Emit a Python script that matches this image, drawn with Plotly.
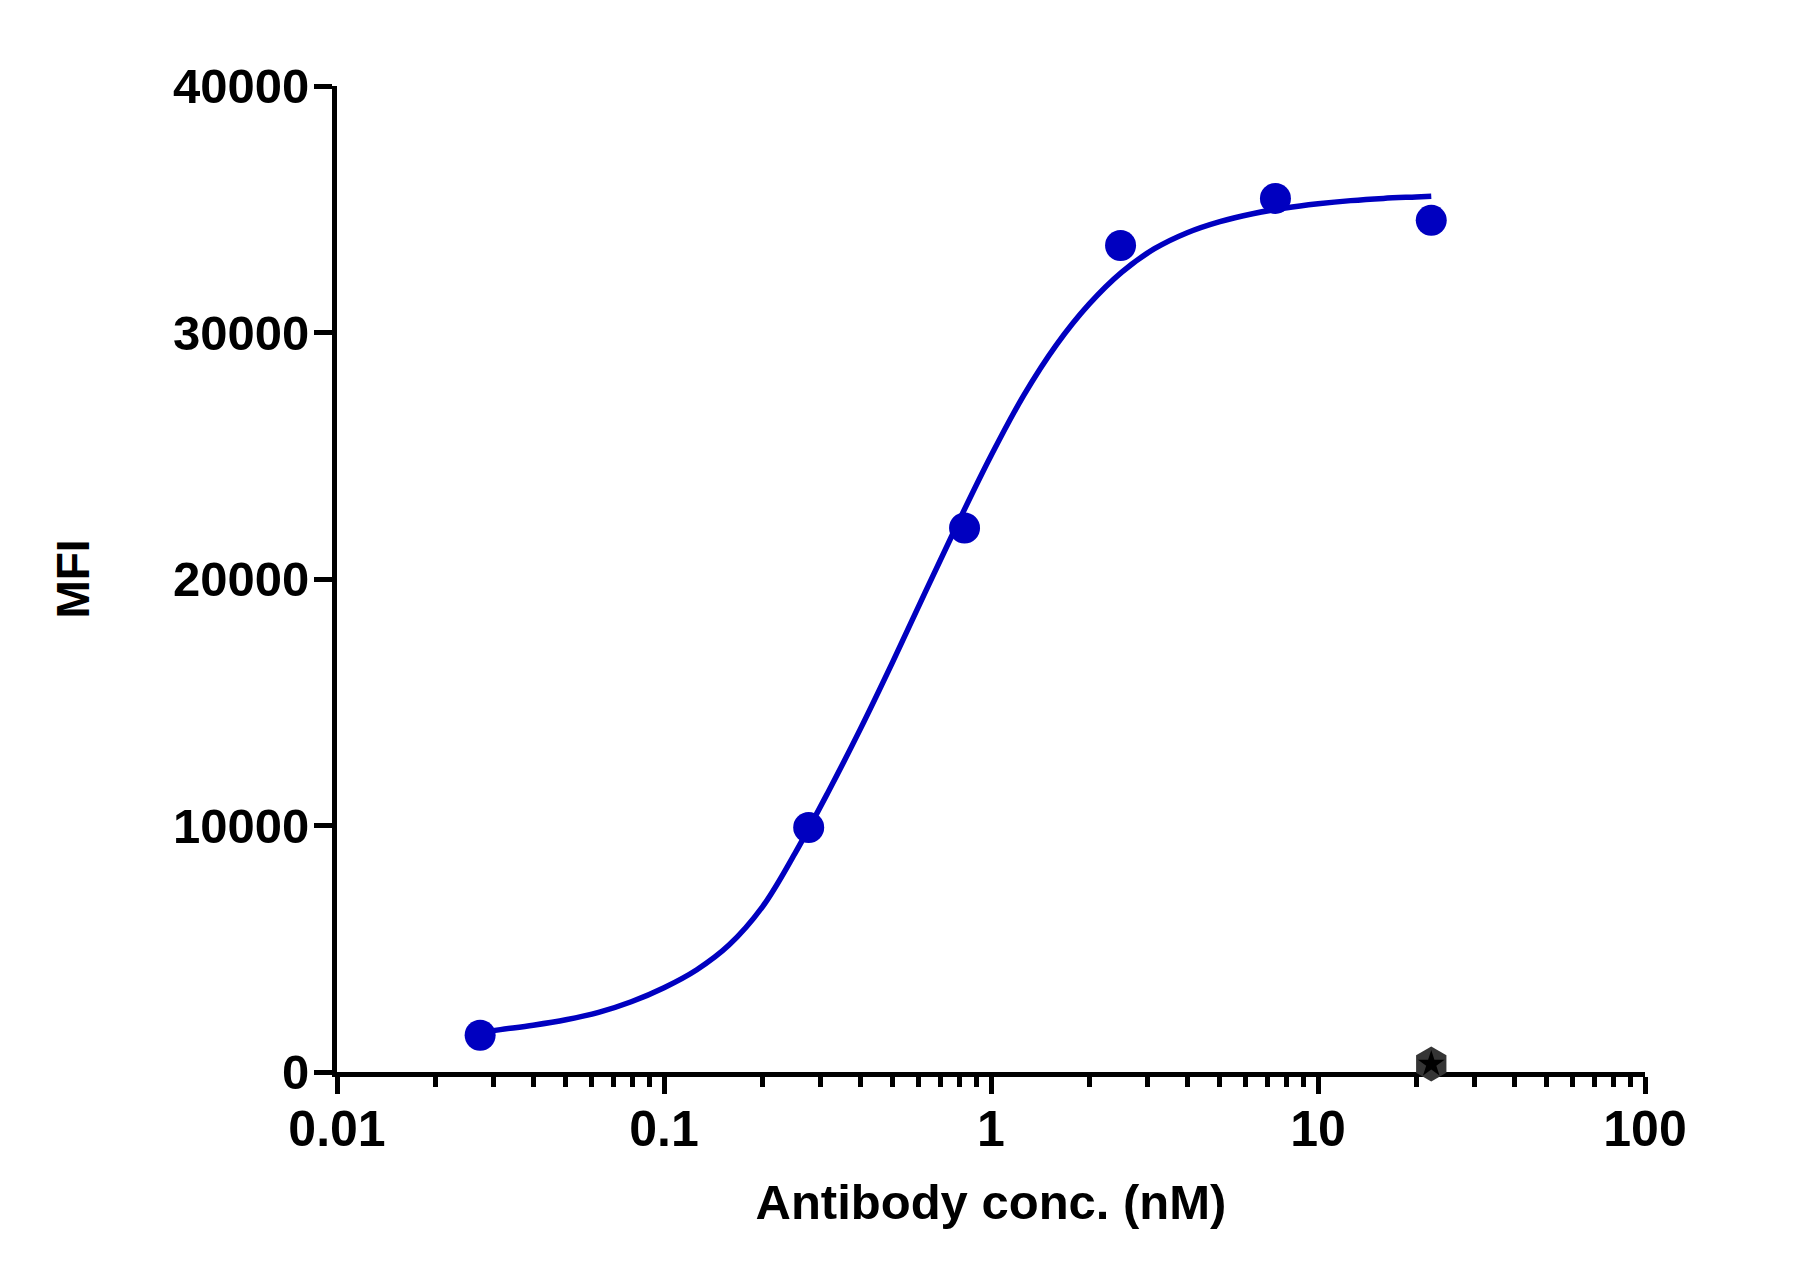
import plotly.graph_objects as go

# ---- data ----
conc = [0.0274, 0.277, 0.83, 2.49, 7.41, 22.2]          # nM
mfi = [1490, 9920, 22070, 33530, 35440, 34550]

control_conc = [22.2]
control_mfi = [320]

# fitted curve at evenly spaced concentrations
fit_conc = [0.0274, 0.0316, 0.0398, 0.0501, 0.0631, 0.0794, 0.1, 0.126, 0.158,
            0.2, 0.251, 0.316, 0.398, 0.501, 0.631, 0.794, 1.0, 1.259, 1.585,
            1.995, 2.512, 3.162, 3.981, 5.012, 6.31, 7.943, 10, 12.59, 15.85,
            19.95, 22.2]
fit_mfi = [1600, 1720, 1900, 2120, 2420, 2850, 3420, 4150, 5150,
           6700, 8850, 11300, 13900, 16650, 19500, 22300, 25000, 27450, 29500,
           31150, 32450, 33400, 34050, 34500, 34820, 35050, 35220, 35350, 35440,
           35500, 35530]

x_ticks = [0.01, 0.1, 1, 10, 100]
x_ticktext = ["0.01", "0.1", "1", "10", "100"]
x_minor = [m * d for d in [0.01, 0.1, 1, 10] for m in range(2, 10)]
y_ticks = [0, 10000, 20000, 30000, 40000]
y_ticktext = ["0", "10000", "20000", "30000", "40000"]

BLUE = "#0000C0"
FONT = "Liberation Sans, Arial, Helvetica, sans-serif"

fig = go.Figure()

fig.add_trace(go.Scatter(
    x=fit_conc, y=fit_mfi, mode="lines",
    line=dict(color=BLUE, width=5.5, shape="spline", smoothing=1.0),
    showlegend=False, hoverinfo="skip", cliponaxis=False))

fig.add_trace(go.Scatter(
    x=conc, y=mfi, mode="markers",
    marker=dict(color=BLUE, size=31, line=dict(width=0)),
    showlegend=False, cliponaxis=False))

fig.add_trace(go.Scatter(
    x=control_conc, y=control_mfi, mode="markers",
    marker=dict(color="#353535", size=35, symbol="hexagon", line=dict(width=0)),
    showlegend=False, cliponaxis=False))
fig.add_trace(go.Scatter(
    x=control_conc, y=control_mfi, mode="markers",
    marker=dict(color="#000000", size=20, symbol="star", line=dict(width=0)),
    showlegend=False, cliponaxis=False))

fig.update_layout(
    width=1789, height=1264,
    margin=dict(l=329, r=152, t=78, b=200),
    paper_bgcolor="white", plot_bgcolor="white",
    font=dict(family=FONT, color="black", size=50, weight="bold"),
    xaxis=dict(
        type="log", range=[-2, 2],
        tickmode="array", tickvals=x_ticks, ticktext=x_ticktext,
        ticks="outside", ticklen=17, tickwidth=5, tickcolor="black",
        ticklabelstandoff=-8,
        showline=True, linewidth=5, linecolor="black",
        showgrid=False, zeroline=False, layer="below traces",
        tickfont=dict(family=FONT, size=50, color="black", weight="bold"),
        minor=dict(tickmode="array", tickvals=x_minor, ticks="outside",
                   ticklen=10, tickwidth=5, tickcolor="black", showgrid=False),
        title=dict(text="Antibody conc. (nM)", standoff=30,
                   font=dict(family=FONT, size=49, color="black", weight="bold")),
    ),
    yaxis=dict(
        range=[0, 40000],
        tickmode="array", tickvals=y_ticks, ticktext=y_ticktext,
        ticks="outside", ticklen=18, tickwidth=5, tickcolor="black",
        ticklabelstandoff=-5,
        showline=True, linewidth=5, linecolor="black",
        showgrid=False, zeroline=False, layer="below traces",
        tickfont=dict(family=FONT, size=49, color="black", weight="bold"),
        title=dict(text="MFI", standoff=70,
                   font=dict(family=FONT, size=46, color="black", weight="bold")),
    ),
)

fig.write_html("out.html")
